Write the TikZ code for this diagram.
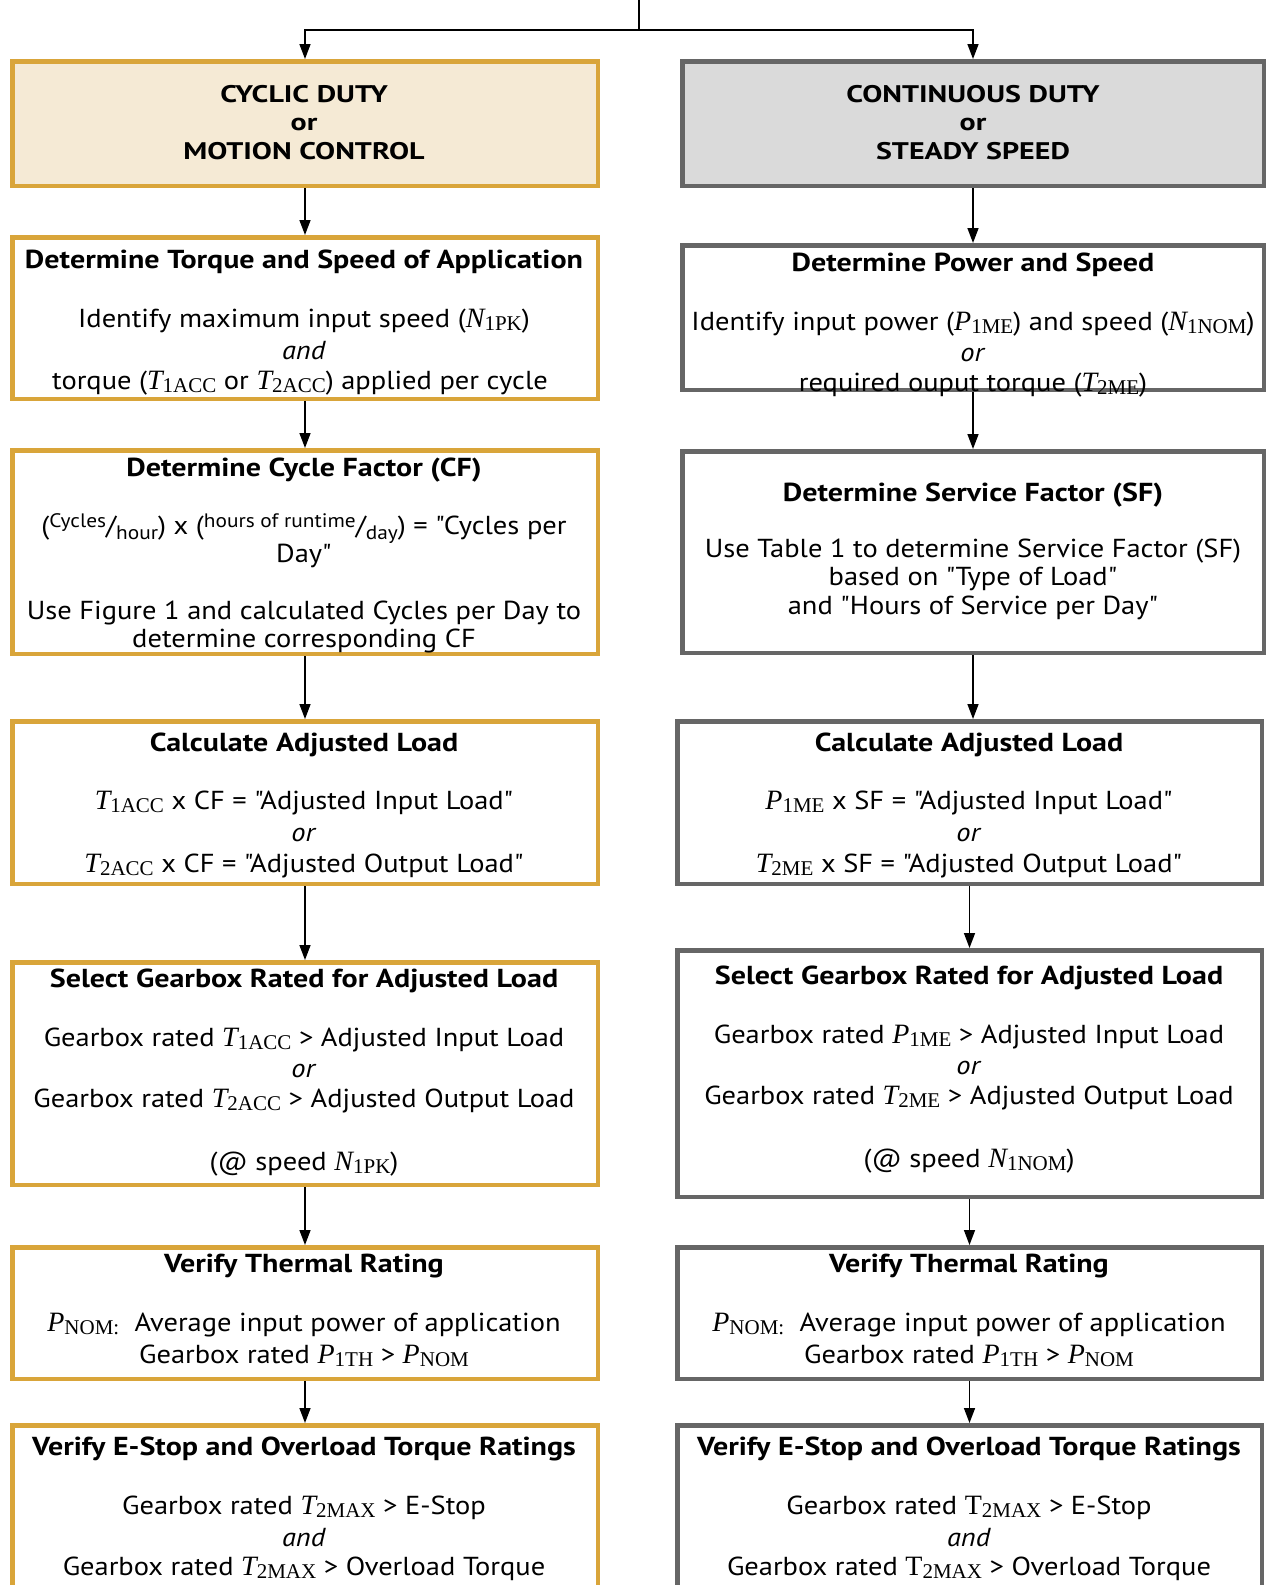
\documentclass[tikz,border=0pt]{standalone}
\usepackage{fontspec}
\setmainfont{PT Sans}[Ligatures=TeXOff, FakeStretch=1.095, BoldFeatures={FakeStretch=1.155}]
\newfontfamily\boxonefont{PT Sans}[Ligatures=TeXOff, FakeStretch=1.25]
\newfontfamily\seriffam{Liberation Serif}
\usetikzlibrary{arrows.meta}
\definecolor{gold}{HTML}{D9A53A}
\definecolor{beige}{HTML}{F5EAD5}
\definecolor{dgray}{HTML}{666666}
\definecolor{lgray}{HTML}{DADADA}
\newcommand\vv[2]{{\seriffam\fontsize{28}{28}\selectfont\itshape #1}\raisebox{-3.5pt}{\seriffam\fontsize{21}{21}\selectfont #2}}
\newcommand\vr[2]{{\seriffam\fontsize{28}{28}\selectfont #1}\raisebox{-3.5pt}{\seriffam\fontsize{21}{21}\selectfont #2}}
\newcommand\fr[2]{\raisebox{7pt}{\fontsize{19.5}{19.5}\selectfont #1}/\raisebox{-5pt}{\fontsize{19.5}{19.5}\selectfont #2}}
\tikzset{
  lbox/.style={draw=gold, fill=white, line width=4.5pt, inner sep=0pt},
  rbox/.style={draw=dgray, fill=white, line width=4.5pt, inner sep=0pt},
  txt/.style={anchor=base, inner sep=0pt, font=\fontsize{26}{31}\selectfont},
  ttl/.style={anchor=base, inner sep=0pt, font=\fontsize{26}{31}\selectfont\bfseries},
  hdr/.style={anchor=base, inner sep=0pt, font=\boxonefont\fontsize{24}{28}\selectfont\bfseries},
  arr/.style={line width=1.5pt, -{Triangle[width=11pt,length=15pt]}},
}
\begin{document}
\begin{tikzpicture}[x=1pt,y=-1pt]
\useasboundingbox (0,0) rectangle (1268,1585);
\clip (0,0) rectangle (1268,1585);
% boxes
\node[lbox, fill=beige, minimum width=585.5pt, minimum height=124.5pt] (L1) at (305,123.5) {};
\node[rbox, fill=lgray, minimum width=581.5pt, minimum height=124.5pt] (R1) at (973,123.5) {};
\node[lbox, minimum width=585.5pt, minimum height=161.5pt] (L2) at (305,318) {};
\node[rbox, minimum width=581.5pt, minimum height=144.5pt] (R2) at (973,317.5) {};
\node[lbox, minimum width=585.5pt, minimum height=203.5pt] (L3) at (305,552) {};
\node[rbox, minimum width=581.5pt, minimum height=201.5pt] (R3) at (973,552) {};
\node[lbox, minimum width=585.5pt, minimum height=162.5pt] (L4) at (305,802.5) {};
\node[rbox, minimum width=584.5pt, minimum height=162.5pt] (R4) at (969.5,802.5) {};
\node[lbox, minimum width=585.5pt, minimum height=222.5pt] (L5) at (305,1073.5) {};
\node[rbox, minimum width=584.5pt, minimum height=246.5pt] (R5) at (969.5,1073.5) {};
\node[lbox, minimum width=585.5pt, minimum height=131.5pt] (L6) at (305,1313) {};
\node[rbox, minimum width=584.5pt, minimum height=131.5pt] (R6) at (969.5,1313) {};
\node[lbox, minimum width=585.5pt, minimum height=172.5pt] (L7) at (305,1511.5) {};
\node[rbox, minimum width=584.5pt, minimum height=172.5pt] (R7) at (969.5,1511.5) {};
% connectors
\coordinate (top) at (639,0);
\coordinate (junc) at (639,30);
\draw[line width=1.5pt] (top) -- (junc);
\draw[arr] (junc) -| (L1.north);
\draw[arr] (junc) -| (R1.north);
\foreach \a/\b in {L1/L2,L2/L3,L3/L4,L4/L5,L5/L6,L6/L7,R1/R2,R2/R3,R3/R4,R4/R5,R5/R6,R6/R7}
  \draw[arr] (\a.south) -- (\a.south |- \b.north);
% left texts
\node[hdr] (l1a) at (304,102) {CYCLIC DUTY};
\node[hdr] (l1b) at (304,130) {or};
\node[hdr] (l1c) at (304,159) {MOTION CONTROL};
\node[ttl] (l2a) at (304,268) {Determine Torque and Speed of Application};
\node[txt] (l2b) at (304,327) {Identify maximum input speed (\vv{N}{1PK})};
\node[txt] (l2c) at (304,359) {\textit{and}};
\node[txt] (l2d) at (300,389) {torque (\vv{T}{1ACC} or \vv{T}{2ACC}) applied per cycle};
\node[ttl] (l3a) at (304,476) {Determine Cycle Factor (CF)};
\node[txt] (l3b) at (304,534) {(\fr{Cycles}{hour}) x (\fr{hours of runtime}{day}) = "Cycles per};
\node[txt] (l3c) at (304,562) {Day"};
\node[txt] (l3d) at (304,619) {Use Figure 1 and calculated Cycles per Day to};
\node[txt] (l3e) at (304,647) {determine corresponding CF};
\node[ttl] (l4a) at (304,751) {Calculate Adjusted Load};
\node[txt] (l4b) at (304,809) {\vv{T}{1ACC} x CF = "Adjusted Input Load"};
\node[txt] (l4c) at (304,841) {\textit{or}};
\node[txt] (l4d) at (304,872) {\vv{T}{2ACC} x CF = "Adjusted Output Load"};
\node[ttl] (l5a) at (304,987) {Select Gearbox Rated for Adjusted Load};
\node[txt] (l5b) at (304,1046) {Gearbox rated \vv{T}{1ACC} > Adjusted Input Load};
\node[txt] (l5c) at (304,1077) {\textit{or}};
\node[txt] (l5d) at (304,1107) {Gearbox rated \vv{T}{2ACC} > Adjusted Output Load};
\node[txt] (l5e) at (304,1170) {(@ speed \vv{N}{1PK})};
\node[ttl] (l6a) at (304,1272) {Verify Thermal Rating};
\node[txt] (l6b) at (304,1331) {\vv{P}{NOM:}\ \ Average input power of application};
\node[txt] (l6c) at (304,1363) {Gearbox rated \vv{P}{1TH} > \vv{P}{NOM}};
\node[ttl] (l7a) at (304,1455) {Verify E-Stop and Overload Torque Ratings};
\node[txt] (l7b) at (304,1514) {Gearbox rated \vv{T}{2MAX} > E-Stop};
\node[txt] (l7c) at (304,1546) {\textit{and}};
\node[txt] (l7d) at (304,1575) {Gearbox rated \vv{T}{2MAX} > Overload Torque};
% right texts
\node[hdr] (r1a) at (973,102) {CONTINUOUS DUTY};
\node[hdr] (r1b) at (973,130) {or};
\node[hdr] (r1c) at (973,159) {STEADY SPEED};
\node[ttl] (r2a) at (973,271) {Determine Power and Speed};
\node[txt] (r2b) at (973,330) {Identify input power (\vv{P}{1ME}) and speed (\vv{N}{1NOM})};
\node[txt] (r2c) at (973,361) {\textit{or}};
\node[txt] (r2d) at (973,391) {required ouput torque (\vv{T}{2ME})};
\node[ttl] (r3a) at (973,501) {Determine Service Factor (SF)};
\node[txt] (r3b) at (973,557) {Use Table 1 to determine Service Factor (SF)};
\node[txt] (r3c) at (973,585) {based on "Type of Load"};
\node[txt] (r3d) at (973,614) {and "Hours of Service per Day"};
\node[ttl] (r4a) at (969,751) {Calculate Adjusted Load};
\node[txt] (r4b) at (969,809) {\vv{P}{1ME} x SF = "Adjusted Input Load"};
\node[txt] (r4c) at (969,841) {\textit{or}};
\node[txt] (r4d) at (969,872) {\vv{T}{2ME} x SF = "Adjusted Output Load"};
\node[ttl] (r5a) at (969,984) {Select Gearbox Rated for Adjusted Load};
\node[txt] (r5b) at (969,1043) {Gearbox rated \vv{P}{1ME} > Adjusted Input Load};
\node[txt] (r5c) at (969,1074) {\textit{or}};
\node[txt] (r5d) at (969,1104) {Gearbox rated \vv{T}{2ME} > Adjusted Output Load};
\node[txt] (r5e) at (969,1167) {(@ speed \vv{N}{1NOM})};
\node[ttl] (r6a) at (969,1272) {Verify Thermal Rating};
\node[txt] (r6b) at (969,1331) {\vv{P}{NOM:}\ \ Average input power of application};
\node[txt] (r6c) at (969,1363) {Gearbox rated \vv{P}{1TH} > \vv{P}{NOM}};
\node[ttl] (r7a) at (969,1455) {Verify E-Stop and Overload Torque Ratings};
\node[txt] (r7b) at (969,1514) {Gearbox rated \vr{T}{2MAX} > E-Stop};
\node[txt] (r7c) at (969,1546) {\textit{and}};
\node[txt] (r7d) at (969,1575) {Gearbox rated \vr{T}{2MAX} > Overload Torque};
\end{tikzpicture}
\end{document}
